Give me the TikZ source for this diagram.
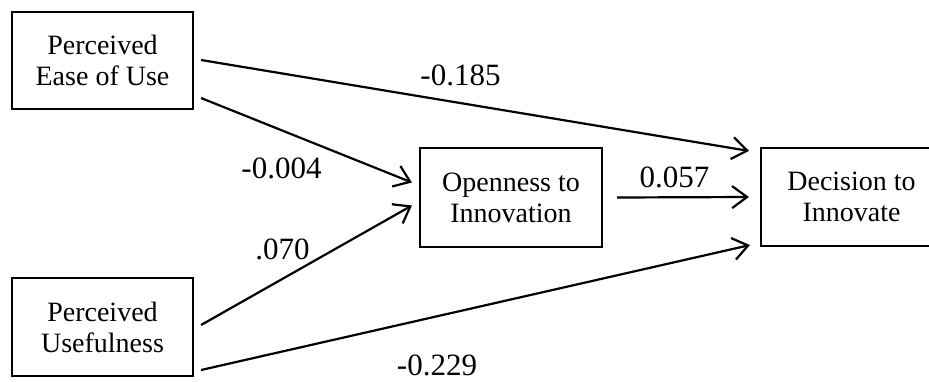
\documentclass[tikz,border=0pt]{standalone}
\usepackage{fontspec}
\setmainfont{Liberation Serif}
\usetikzlibrary{arrows.meta}
\begin{document}
\begin{tikzpicture}[x=1pt,y=-1pt,
  box/.style={draw,line width=2.1pt,minimum width=181pt,minimum height=97pt,inner sep=0pt,align=center,
    font=\fontsize{28}{31}\selectfont},
  arr/.style={line width=2.2pt,-{Straight Barb[length=15pt,width=22pt,line width=2.2pt]}},
  lbl/.style={inner sep=0pt,anchor=base,font=\fontsize{31}{34}\selectfont}]
\useasboundingbox (0,0) rectangle (929,381);
\clip (0,0) rectangle (929,381);
\node[box] (pe) at (102.5,60.5) {Perceived\\Ease of Use};
\node[box,minimum height=98pt] (pu) at (102.5,327) {Perceived\\Usefulness};
\node[box,minimum width=182pt,minimum height=99pt] (oi) at (511,197.5) {Openness to\\Innovation};
\node[box,minimum height=98pt] (di) at (851.5,197) {Decision to\\Innovate};
\draw[arr] ([shift={(7,-0.5)}]pe.east) -- ([shift={(-11,4)}]di.north west);
\draw[arr] ([shift={(7,37.5)}]pe.east) -- ([shift={(-7,-15)}]oi.west);
\draw[arr] ([shift={(7,-2)}]pu.east) -- ([shift={(-7,8)}]oi.west);
\draw[arr] ([shift={(7,43)}]pu.east) -- ([shift={(-10,-2)}]di.south west);
\draw[arr] ([shift={(14,0)}]oi.east) -- ([shift={(-11,0)}]di.west);
\node[lbl] (l1) at (460.5,85) {-0.185};
\node[lbl] (l2) at (281.5,178) {-0.004};
\node[lbl] (l3) at (282.5,259) {.070};
\node[lbl] (l4) at (674.5,187) {0.057};
\node[lbl] (l5) at (437,375) {-0.229};
\end{tikzpicture}
\end{document}
